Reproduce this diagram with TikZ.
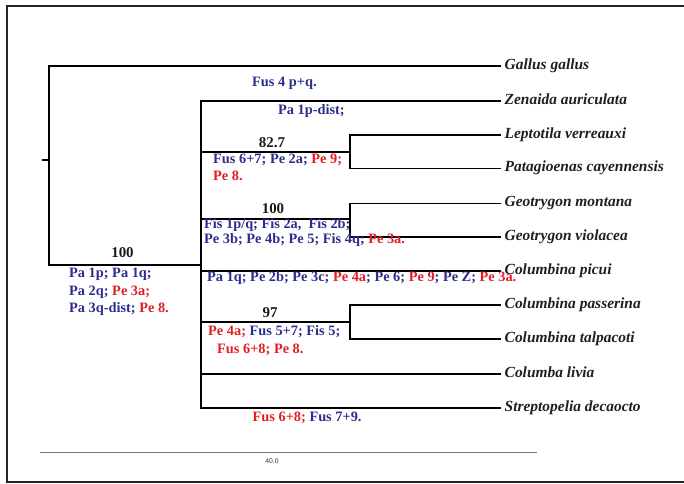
\documentclass[tikz,border=0pt]{standalone}
\usepackage{fontspec}
\setmainfont{Liberation Serif}
\newfontfamily\barfont{Liberation Sans}
\definecolor{annblue}{RGB}{44,45,140}
\definecolor{annred}{RGB}{226,30,36}
\begin{document}
\begin{tikzpicture}[x=1bp,y=-1bp,
  branch/.style={line width=1.9bp,black,line cap=rect},
  frame/.style={line width=2bp,black!85},
  taxon/.style={anchor=west,inner xsep=4.5bp,inner ysep=0pt,text height=10.5bp,text depth=3.5bp,
    font=\fontsize{15.5}{18}\selectfont\bfseries\itshape,text=black!88},
  support/.style={inner sep=0pt,font=\fontsize{15}{18}\selectfont\bfseries,text=black!90},
  note/.style={anchor=west,inner sep=0pt,font=\fontsize{14.4}{16}\selectfont\bfseries,text=annblue},
  scalebar/.style={line width=1bp,black!55},
  scalelabel/.style={inner sep=0pt,font=\barfont\fontsize{6.8}{8}\selectfont,text=black!80}]
\useasboundingbox (0,0) rectangle (684,484);

% outer frame (open to the right)
\draw[frame] (700,6) -- (7,6) -- (7,482) -- (700,482);

% terminal taxa
\node[taxon] (gallus)  at (500,66)    {Gallus gallus};
\node[taxon] (zenaida) at (500,101)   {Zenaida auriculata};
\node[taxon] (lepto)   at (500,135)   {Leptotila verreauxi};
\node[taxon] (patag)   at (500,168.5) {Patagioenas cayennensis};
\node[taxon] (gmont)   at (500,203.5) {Geotrygon montana};
\node[taxon] (gviol)   at (500,237)   {Geotrygon violacea};
\node[taxon] (cpicui)  at (500,271)   {Columbina picui};
\node[taxon] (cpass)   at (500,305)   {Columbina passerina};
\node[taxon] (ctalp)   at (500,339)   {Columbina talpacoti};
\node[taxon] (clivia)  at (500,374)   {Columba livia};
\node[taxon] (sdeca)   at (500,408)   {Streptopelia decaocto};

% internal nodes
\coordinate (stub)    at (43,160);
\coordinate (root)    at (49,160);
\coordinate (ingroup) at (201,265);
\coordinate (cladeA)  at (350,152);
\coordinate (cladeB)  at (350,219);
\coordinate (cladeC)  at (350,322);

% branches
\draw[branch] (stub) -- (root);
\draw[branch] (root) |- (gallus.west);
\draw[branch] (root) |- (ingroup);
\draw[branch] (ingroup) |- (zenaida.west);
\draw[branch] (ingroup) |- (cladeA);
\draw[branch] (cladeA) |- (lepto.west);
\draw[branch] (cladeA) |- (patag.west);
\draw[branch] (ingroup) |- (cladeB);
\draw[branch] (cladeB) |- (gmont.west);
\draw[branch] (cladeB) |- (gviol.west);
\draw[branch] (ingroup) |- (cpicui.west);
\draw[branch] (ingroup) |- (cladeC);
\draw[branch] (cladeC) |- (cpass.west);
\draw[branch] (cladeC) |- (ctalp.west);
\draw[branch] (ingroup) |- (clivia.west);
\draw[branch] (ingroup) |- (sdeca.west);

% support values
\node[support] (bsroot) at (122.5,253) {100};
\node[support] (bsA)    at (272,142.5) {82.7};
\node[support] (bsB)    at (273,209)   {100};
\node[support] (bsC)    at (270,312.5) {97};

% character changes along branches
\node[note] (nGallus) at (252,83)    {Fus 4 p+q.};
\node[note] (nZen)    at (278,111)   {Pa 1p-dist;};
\node[note] (nA1)     at (213,160)   {Fus 6+7; Pe 2a; \textcolor{annred}{Pe 9;}};
\node[note] (nA2)     at (213,176)   {\textcolor{annred}{Pe 8.}};
\node[note] (nB1)     at (204,225.5) {Fis 1p/q; Fis 2a,\ \ Fis 2b;};
\node[note] (nB2)     at (204,240.5) {Pe 3b; Pe 4b; Pe 5; Fis 4q; \textcolor{annred}{Pe 3a.}};
\node[note] (nPicui)  at (207,278.5) {Pa 1q; Pe 2b; Pe 3c; \textcolor{annred}{Pe 4a}; Pe 6; \textcolor{annred}{Pe 9}; Pe Z; \textcolor{annred}{Pe 3a.}};
\node[note] (nC1)     at (208,331.5) {\textcolor{annred}{Pe 4a;} Fus 5+7; Fis 5;};
\node[note] (nC2)     at (217,349.5) {\textcolor{annred}{Fus 6+8; Pe 8.}};
\node[note] (nStrep)  at (252.5,418) {\textcolor{annred}{Fus 6+8;} Fus 7+9.};
\node[note] (nR1)     at (69,274.5)  {Pa 1p; Pa 1q;};
\node[note] (nR2)     at (69,292)    {Pa 2q; \textcolor{annred}{Pe 3a;}};
\node[note] (nR3)     at (69,309.5)  {Pa 3q-dist; \textcolor{annred}{Pe 8.}};

% scale bar
\coordinate (barL) at (40,452);
\coordinate (barR) at (537,452);
\draw[scalebar] (barL) -- (barR);
\node[scalelabel] (barlab) at (272,461) {40.0};
\end{tikzpicture}
\end{document}
